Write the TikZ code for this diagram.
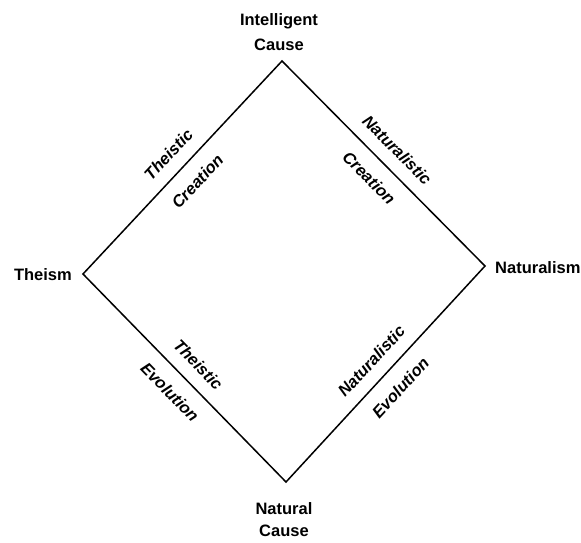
\documentclass[tikz,border=0pt]{standalone}
\usepackage{fontspec}
\setmainfont{Liberation Sans}
\begin{document}
\begin{tikzpicture}[x=1pt,y=-1pt,
  corner/.style={font=\fontsize{16.5}{25}\selectfont\bfseries, align=center, inner sep=0pt},
  edgelbl/.style={font=\fontsize{16.5}{20}\selectfont\bfseries\itshape, sloped, inner sep=0pt, midway},
  side/.style={line width=1.5pt, line join=miter}]
\useasboundingbox (0,0) rectangle (581,543);
\coordinate (T) at (282,61);
\coordinate (L) at (83,274);
\coordinate (R) at (485,266);
\coordinate (B) at (286,482);
\draw[side] (L) -- (T) -- (R) -- (B) -- cycle;
\node[corner, anchor=north] (top) at (279,13) {Intelligent\\Cause};
\node[corner, anchor=base east] (left) at (72,280) {Theism};
\node[corner, anchor=base west] (right) at (495,273) {Naturalism};
\node[corner, anchor=north, font=\fontsize{16.5}{22}\selectfont\bfseries] (bottom) at (284,502) {Natural\\Cause};
\path (L) -- (T)
  node[edgelbl, above=13pt] (tc1) {Theistic}
  node[edgelbl, below=14pt] (tc2) {Creation};
\path (T) -- (R)
  node[edgelbl, above=13pt] (nc1) {Naturalistic}
  node[edgelbl, below=14pt] (nc2) {Creation};
\path (L) -- (B)
  node[edgelbl, above=13pt] (te1) {Theistic}
  node[edgelbl, below=14pt] (te2) {Evolution};
\path (B) -- (R)
  node[edgelbl, above=13pt] (ne1) {Naturalistic}
  node[edgelbl, below=14pt] (ne2) {Evolution};
\end{tikzpicture}
\end{document}
